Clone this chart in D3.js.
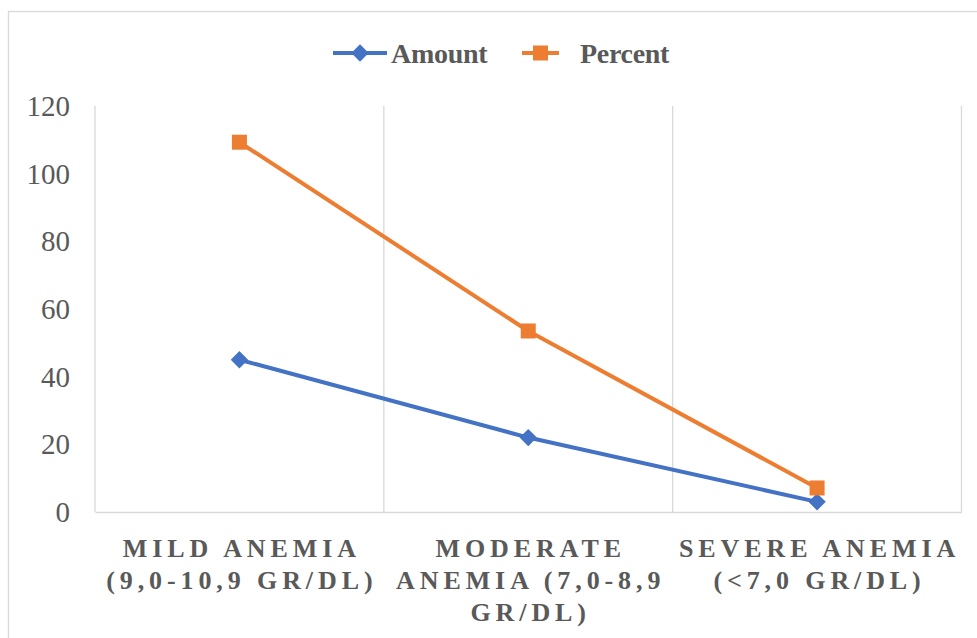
<!DOCTYPE html>
<html>
<head>
<meta charset="utf-8">
<script src="https://cdn.jsdelivr.net/npm/d3@7"></script>
<style>
  html, body { margin: 0; padding: 0; background: #fff; }
  svg { display: block; }
</style>
</head>
<body>
<svg id="chart" width="977" height="638"></svg>
<script>
const categories = [
  "Mild anemia (9,0-10,9 gr/dl)",
  "Moderate anemia (7,0-8,9 gr/dl)",
  "Severe anemia (<7,0 gr/dl)"
];
const amountValues = [45, 22, 3];
const percentValues = [109.3, 53.5, 7.1];
const yTicks = [0, 20, 40, 60, 80, 100, 120];
const seriesNames = ["Amount", "Percent"];
const seriesColors = ["#4472C4", "#ED7D31"];

const svg = d3.select("#chart");
const W = 977, H = 638;
const margin = { left: 95, right: W - 961.5, top: 106, bottom: H - 512 };
const serif = "'Liberation Serif', 'Times New Roman', serif";

// outer border
svg.append("rect")
  .attr("x", 8.5).attr("y", 11.5)
  .attr("width", 1200).attr("height", 1200)
  .attr("fill", "none").attr("stroke", "#d9d9d9").attr("stroke-width", 1.3);

const x = d3.scaleBand().domain(categories)
  .range([margin.left, W - margin.right]).paddingInner(0).paddingOuter(0);
const y = d3.scaleLinear().domain([0, 120]).range([H - margin.bottom, margin.top]);

// vertical gridlines at category boundaries
const bounds = categories.map(c => x(c)).concat([x.range()[1]]);
svg.append("g").selectAll("line").data(bounds).join("line")
  .attr("x1", d => d).attr("x2", d => d)
  .attr("y1", y(120)).attr("y2", y(0))
  .attr("stroke", "#d9d9d9").attr("stroke-width", 1.3);

// y axis
const yAxis = d3.axisLeft(y).tickValues(yTicks).tickSize(0).tickPadding(25);
const yg = svg.append("g").attr("transform", `translate(${margin.left},0)`).call(yAxis);
yg.attr("font-family", serif);
yg.select(".domain").remove();
yg.selectAll("text")
  .attr("font-family", serif)
  .attr("font-size", 29).attr("fill", "#595959")
  .attr("dy", "0.33em");

// x axis
const xAxis = d3.axisBottom(x).tickSize(0).tickFormat(() => "");
const xg = svg.append("g").attr("transform", `translate(0,${y(0)})`).call(xAxis);
xg.select(".domain").attr("stroke", "#d9d9d9").attr("stroke-width", 1.5);

// x labels with wrapping
const lineH = 32;
const ls = 4.9;
categories.forEach(cat => {
  const words = cat.toUpperCase().split(" ");
  const t = svg.append("text")
    .attr("font-family", serif).attr("font-size", 26).attr("font-weight", "bold")
    .attr("fill", "#595959").attr("letter-spacing", ls)
    .attr("text-anchor", "middle");
  const cx = x(cat) + x.bandwidth() / 2;
  let lines = [];
  let cur = [];
  const maxW = x.bandwidth() + 6;
  const probe = t.append("tspan");
  words.forEach(w => {
    const test = cur.concat([w]).join(" ");
    probe.text(test);
    if (probe.node().getComputedTextLength() > maxW && cur.length) {
      lines.push(cur.join(" "));
      cur = [w];
    } else cur.push(w);
  });
  lines.push(cur.join(" "));
  probe.remove();
  lines.forEach((ln, i) => {
    t.append("tspan").attr("x", cx + ls / 2).attr("y", 557 + i * lineH).text(ln);
  });
});

// lines & markers
const series = [amountValues, percentValues];
const line = d3.line().x((d, i) => x(categories[i]) + x.bandwidth() / 2).y(d => y(d));
series.forEach((vals, si) => {
  svg.append("path").datum(vals)
    .attr("d", line).attr("fill", "none")
    .attr("stroke", seriesColors[si]).attr("stroke-width", 4)
    .attr("stroke-linejoin", "round");
});
const diamond = d3.symbol().type(d3.symbolSquare).size(150);
svg.append("g").selectAll("path").data(amountValues).join("path")
  .attr("d", diamond)
  .attr("transform", (d, i) => `translate(${x(categories[i]) + x.bandwidth() / 2},${y(d)}) rotate(45)`)
  .attr("fill", seriesColors[0]);
svg.append("g").selectAll("rect").data(percentValues).join("rect")
  .attr("x", (d, i) => x(categories[i]) + x.bandwidth() / 2 - 7.5)
  .attr("y", d => y(d) - 7.5)
  .attr("width", 15).attr("height", 15)
  .attr("fill", seriesColors[1]);

// legend
const legend = svg.append("g");
const legendItems = [
  { name: seriesNames[0], color: seriesColors[0], x1: 333, x2: 387, tx: 391, shape: "diamond" },
  { name: seriesNames[1], color: seriesColors[1], x1: 522, x2: 559, tx: 580, shape: "square" }
];
const ly = 53;
legendItems.forEach(it => {
  legend.append("line").attr("x1", it.x1).attr("x2", it.x2).attr("y1", ly).attr("y2", ly)
    .attr("stroke", it.color).attr("stroke-width", 4);
  const mx = (it.x1 + it.x2) / 2;
  if (it.shape === "diamond") {
    legend.append("path").attr("d", diamond)
      .attr("transform", `translate(${mx},${ly}) rotate(45)`).attr("fill", it.color);
  } else {
    legend.append("rect").attr("x", mx - 7.5).attr("y", ly - 7.5)
      .attr("width", 15).attr("height", 15).attr("fill", it.color);
  }
  legend.append("text").attr("x", it.tx).attr("y", ly).attr("dy", "0.35em")
    .attr("font-family", serif).attr("font-size", 28).attr("font-weight", "bold")
    .attr("fill", "#595959").attr("letter-spacing", -0.3)
    .text(it.name);
});
</script>
</body>
</html>
